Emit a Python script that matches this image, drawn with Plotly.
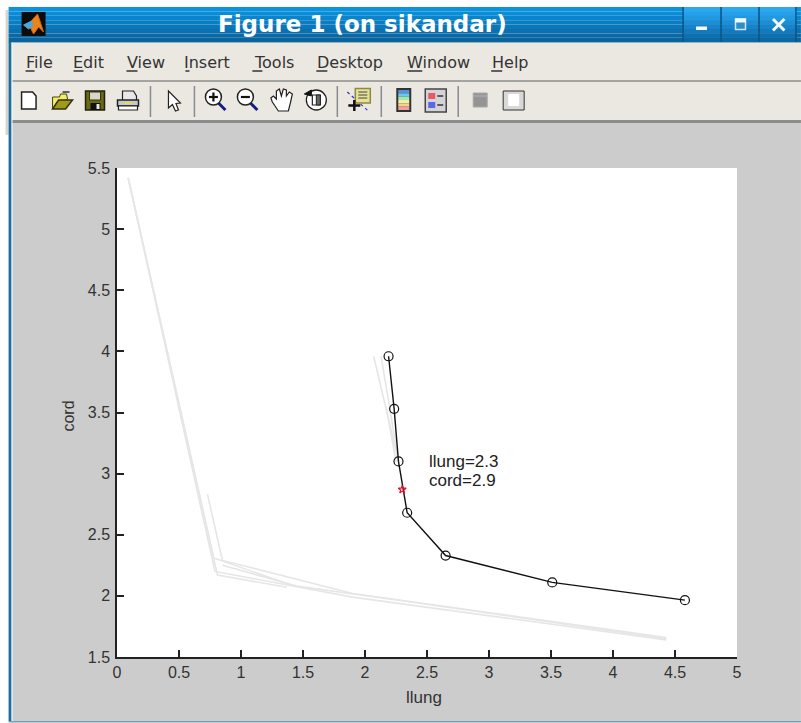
import plotly.graph_objects as go

# ---- data ----
llung = [2.19, 2.235, 2.27, 2.34, 2.65, 3.51, 4.58]
cord = [3.96, 3.53, 3.10, 2.68, 2.33, 2.11, 1.965]
star_x = [2.30]
star_y = [2.87]
grey1_x = [0.09, 0.81, 1.37]
grey1_y = [5.42, 2.17, 2.07]
grey2_x = [0.09, 0.79, 1.9, 4.43]
grey2_y = [5.42, 2.20, 1.99, 1.64]
grey3_x = [0.73, 0.85, 1.9, 4.43]
grey3_y = [2.83, 2.29, 2.02, 1.66]
grey4_x = [0.09, 0.78, 1.4]
grey4_y = [5.42, 2.31, 2.09]
grey5_x = [0.85, 1.45, 2.3, 4.43]
grey5_y = [2.25, 2.08, 1.96, 1.65]
grey6_x = [2.07, 2.27]
grey6_y = [3.96, 3.10]
grey7_x = [2.13, 2.27]
grey7_y = [3.96, 3.10]
grey8_x = [2.17, 2.25]
grey8_y = [3.55, 3.10]
xticks = [0, 0.5, 1, 1.5, 2, 2.5, 3, 3.5, 4, 4.5, 5]
yticks = [1.5, 2, 2.5, 3, 3.5, 4, 4.5, 5, 5.5]
menu_items = ["File", "Edit", "View", "Insert", "Tools", "Desktop", "Window", "Help"]
menu_left = [25, 73, 126, 185, 252, 316, 407, 491]
menu_right = [52, 103, 165, 229, 296, 384, 469, 528]
menu_key_width = [9, 10, 11, 4, 10, 11, 15, 11]

W, H = 801, 723
L, R, T, B = 116.5, 737.0, 168.0, 657.0
GREY = "#e6e6e6"
BG = "#cccccc"
BEIGE = "#ebe8e2"
BLUE = "#1a6f9f"


def fx(p):
    return (p - L) / (R - L)


def fy(p):
    return (B - p) / (B - T)


shapes = []


def rect(x0, y0, x1, y1, fill, line=None, lw=1):
    shapes.append(dict(type="rect", xref="paper", yref="paper", layer="below",
                       x0=fx(x0), x1=fx(x1), y0=fy(y1), y1=fy(y0), fillcolor=fill,
                       line=dict(color=line or fill, width=lw if line else 0)))


def line(x0, y0, x1, y1, color, lw=1, dash="solid"):
    shapes.append(dict(type="line", xref="paper", yref="paper", layer="below",
                       x0=fx(x0), x1=fx(x1), y0=fy(y0), y1=fy(y1),
                       line=dict(color=color, width=lw, dash=dash)))


def circle(x0, y0, x1, y1, fill, col, lw=1.5):
    shapes.append(dict(type="circle", xref="paper", yref="paper", layer="below",
                       x0=fx(x0), x1=fx(x1), y0=fy(y1), y1=fy(y0), fillcolor=fill,
                       line=dict(color=col, width=lw)))


def poly(pts, fill, col, lw=1):
    d = "M" + " L".join(f"{fx(a):.5f},{fy(b):.5f}" for a, b in pts) + " Z"
    shapes.append(dict(type="path", xref="paper", yref="paper", layer="below", path=d,
                       fillcolor=fill, line=dict(color=col, width=lw)))


# window chrome
rect(0, 0, W, H, "#ffffff")
rect(5, 10, 8, 135, "#d8d4cc")
rect(8, 42, 11, 721, BLUE)
rect(11, 42, 12, 721, "#f4f4f4")
rect(12, 42, W, 122, BEIGE)
rect(12, 122, W, 721, BG)
rect(8, 721, W, 722.5, "#6f9fb4")
bands = ["#0a93e0", "#0a8cd7", "#0a85cd", "#0a7ec3", "#0a77b9", "#0a70af", "#0a69a5", "#0b639b"]
for i, c in enumerate(bands):
    rect(8, 7 + i * 4.4, W, 7 + (i + 1) * 4.4, c)
btn = ["#2aa8f2", "#26a0ea", "#2198e0", "#1c8ed5", "#1784c9", "#137abd", "#0f70b0", "#0c68a4"]
for xa, xb in ((684, 721), (722, 759), (760, 796)):
    for i, c in enumerate(btn):
        rect(xa, 7 + i * 4.4, xb, 7 + (i + 1) * 4.4, c)
for xs in (683, 721, 759, 796):
    line(xs, 7, xs, 42, "#0b5585", 1.5)
line(12, 42.5, W, 42.5, "#8fb4c8", 1)
line(12, 81, W, 81, "#a4a4a0", 2)
line(12, 121.5, W, 121.5, "#8c8c8c", 3)

# title-bar controls
rect(696, 26.5, 707, 30, "#f4f8fc")
rect(735.5, 19, 745.5, 29.5, "#2a90cc", "#cfe6f4", 1.5)
rect(735, 18.5, 746, 22.5, "#f4f8fc")
line(773, 19, 784.5, 30.5, "#f4f8fc", 3)
line(784.5, 19, 773, 30.5, "#f4f8fc", 3)

# app logo
rect(21, 12, 45, 36, "#0c0c0c")
poly([(28, 24), (37, 14), (43, 32), (38, 27), (33, 34)], "#e8841a", "#d06a18")
poly([(23, 25), (31, 21), (32, 26), (28, 29)], "#4fa5d8", "#4fa5d8")

# menu underlines
for a, k in zip(menu_left, menu_key_width):
    line(a, 71, a + k, 71, "#333333", 1.5)

# toolbar separators
for xs in (150, 194, 337, 381, 458):
    line(xs, 86, xs, 117, "#868b94", 1.5)

# toolbar icons (drawn by hand)
poly([(21, 92), (32, 92), (35.5, 96), (35.5, 109), (21, 109)], "#ffffff", "#222222", 1.5)
poly([(52, 97), (59, 97), (60, 94), (66, 94), (67, 99), (52, 108)], "#f2f060", "#444411", 1)
poly([(52, 109), (58, 100), (72, 100), (65, 109)], "#a09a18", "#333311", 1.5)
line(62, 92, 69, 92, "#333333", 1.5)
rect(85, 91, 104, 110, "#6a6a14", "#222211", 1.5)
rect(89, 92, 100, 100, "#d8d8c8", "#333311", 1)
rect(90, 103, 100, 110, "#111111")
rect(96, 104, 99, 109, "#e8e8e0")
poly([(122, 91), (133, 91), (136, 96), (136, 101), (122, 101)], "#e8e8e8", "#222222", 1.2)
rect(117, 100, 138, 106, "#c8c8c8", "#222222", 1.5)
poly([(118, 106), (137, 106), (137, 110), (118, 110)], "#ffffff", "#222222", 1.2)
line(124, 103, 131, 103, "#e8e040", 1.5)
poly([(168, 91), (168, 108), (172, 104.5), (175, 111), (178, 110), (175.5, 103.5), (180, 103)],
     "#ffffff", "#222222", 1.2)
for cx, plus in ((213, True), (245, False)):
    line(cx + 5, 103, cx + 12, 110, "#141e80", 3)
    circle(cx - 8, 89, cx + 8, 105, "#ffffff", "#222222", 1.5)
    line(cx - 4.5, 97, cx + 4.5, 97, "#111111", 2.2)
    if plus:
        line(cx, 92.5, cx, 101.5, "#111111", 2.2)
poly([(272, 102), (270.5, 98), (273, 96), (276, 99), (276, 91), (279, 89), (281, 96), (283, 89),
      (286, 90), (286, 96), (289, 92), (292, 94), (290, 103), (288, 111), (278, 111)],
     "#ffffff", "#222222", 1.2)
circle(306, 90, 326, 110, "#ffffff", "#222222", 1.3)
poly([(304, 94), (311, 90), (311, 96)], "#111111", "#111111", 1)
rect(312, 95, 320, 105, "#ffffff", "#222222", 1.2)
rect(316, 95, 320, 105, "#666666", "#222222", 1)
line(347, 92, 368, 111, "#3a30d8", 1.2, "dot")
rect(355, 88.5, 370, 103, "#e8df98", "#8a8a40", 1.5)
for yy in (92, 95, 98):
    line(358, yy, 367, yy, "#444444", 1)
line(354, 100, 354, 111, "#111111", 2.5)
line(348, 105.5, 360, 105.5, "#111111", 2.5)
bar = ["#5a90e0", "#6fc8e8", "#a0e8b0", "#f0f0a0", "#f8d090", "#f0a0a0"]
rect(396, 88, 411, 112, "#333333")
for i, c in enumerate(bar):
    rect(398, 90 + i * 3.33, 409, 90 + (i + 1) * 3.33, c)
rect(425, 89, 446, 112, "#d4d4d4", "#444444", 1.5)
rect(428, 93, 435, 99, "#e85868")
rect(428, 102, 435, 108, "#5868e8")
line(437, 96, 443, 96, "#333333", 1.5)
line(437, 105, 443, 105, "#333333", 1.5)
rect(473, 93, 487, 107, "#949494", "#a8a8a8", 1)
line(473, 96, 487, 96, "#b4b4b4", 1)
rect(503, 91, 524, 110, "#d8d8d8", "#333333", 1)
rect(508, 94, 519, 106, "#ffffff")

# plot background
rect(L, T, R, B, "#ffffff")

fig = go.Figure()
for gx, gy in [(grey1_x, grey1_y), (grey2_x, grey2_y), (grey3_x, grey3_y), (grey4_x, grey4_y),
               (grey5_x, grey5_y), (grey6_x, grey6_y), (grey7_x, grey7_y), (grey8_x, grey8_y)]:
    fig.add_trace(go.Scatter(x=gx, y=gy, mode="lines", line=dict(color=GREY, width=1.6),
                             showlegend=False, hoverinfo="skip"))
fig.add_trace(go.Scatter(x=llung, y=cord, mode="lines+markers", showlegend=False,
                         line=dict(color="#111111", width=1.4),
                         marker=dict(symbol="circle-open", size=9, color="#111111",
                                     line=dict(width=1.2, color="#111111"))))
fig.add_trace(go.Scatter(x=star_x, y=star_y, mode="markers", showlegend=False,
                         marker=dict(symbol="star-open", size=6, color="#ee1122",
                                     line=dict(width=1.2, color="#ee1122"))))

tickfont = dict(family="Liberation Sans", size=16, color="#333333")
axis = dict(showgrid=False, zeroline=False, showline=True, linecolor="#222222", linewidth=1.5,
            ticks="inside", ticklen=7, tickwidth=1.5, tickcolor="#222222", tickfont=tickfont)
fig.update_xaxes(range=[0, 5], tickvals=xticks, ticktext=[f"{v:g}" for v in xticks], **axis)
fig.update_yaxes(range=[1.5, 5.5], tickvals=yticks, ticktext=[f"{v:g}" for v in yticks],
                 ticklabelstandoff=2, **axis)

ann = []


def text(px, py, s, size, color, family="Liberation Sans", anchor="center", angle=0):
    ann.append(dict(xref="paper", yref="paper", x=fx(px), y=fy(py), text=s, showarrow=False,
                    xanchor=anchor, yanchor="middle", textangle=angle,
                    font=dict(family=family, size=size, color=color)))


text(362, 24, "<b>Figure 1 (on sikandar)</b>", 23, "#ffffff", "DejaVu Sans")
for name, a, b in zip(menu_items, menu_left, menu_right):
    text((a + b) / 2, 62, name, 16, "#333333", "DejaVu Sans")
text(424, 697, "llung", 17, "#333333")
text(67, 416, "cord", 16, "#333333", angle=-90)
text(427, 461, "llung=2.3", 17, "#222222", anchor="left")
text(427, 481, "cord=2.9", 17, "#222222", anchor="left")

fig.update_layout(width=W, height=H, autosize=False, paper_bgcolor="#ffffff", plot_bgcolor="rgba(0,0,0,0)",
                  margin=dict(l=L, r=W - R, t=T, b=H - B, pad=0), showlegend=False,
                  shapes=shapes, annotations=ann, hovermode=False)

fig.write_html("out.html", config={"displayModeBar": False},
               post_script="document.body.style.margin='0';document.documentElement.style.overflow='hidden';")
